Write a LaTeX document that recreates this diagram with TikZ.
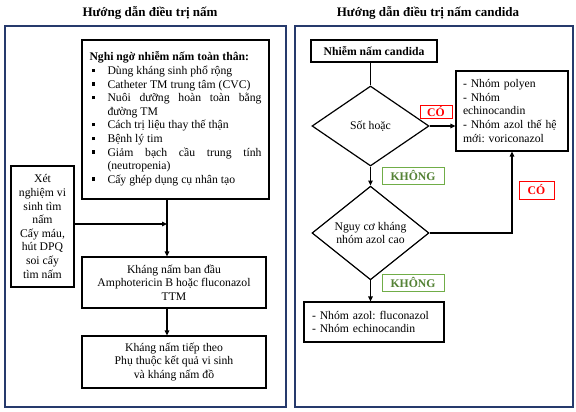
\documentclass[tikz,border=0pt]{standalone}
\usepackage{fontspec}
\setmainfont{Liberation Serif}
\usetikzlibrary{shapes.geometric,arrows.meta}
\definecolor{framenavy}{RGB}{38,58,108}
\definecolor{nogreen}{RGB}{84,130,53}
\definecolor{noborder}{RGB}{112,173,71}
\frenchspacing
\newcommand{\tightlines}{\lineskiplimit=-20pt\relax\lineskip=0pt\relax}
\newcommand{\riskitem}[1]{\par\hangindent=18pt\hangafter=1\noindent\makebox[18pt][l]{\hspace{2pt}\rule[2.5pt]{3.5pt}{3.5pt}}#1}
\begin{document}
    \begin{tikzpicture}[x=1pt,y=-1pt,
        font=\fontsize{11.7}{13.6}\selectfont\tightlines,
        panel/.style={draw=framenavy,line width=1.4pt},
        heading/.style={font=\fontsize{13}{15}\selectfont\bfseries},
        box/.style={draw,line width=1.2pt,inner sep=0pt,align=center},
        choice/.style={diamond,draw,line width=1.2pt,inner sep=0pt,
          minimum width=117pt,minimum height=80pt,align=center},
        yeslabel/.style={draw=red,text=red,line width=0.8pt,inner sep=0pt,
          font=\fontsize{11.7}{13.6}\selectfont\bfseries},
        nolabel/.style={draw=noborder,text=nogreen,line width=0.8pt,inner sep=0pt,
          minimum width=62pt,minimum height=17pt,font=\fontsize{11.7}{13.6}\selectfont\bfseries},
        flow/.style={line width=1.2pt,-{Triangle[length=5pt,width=4.5pt]}}]
        \useasboundingbox (0,0) rectangle (576,412);
        \fill[white] (0,0) rectangle (576,412);

        % left panel
        \draw[panel] (5,26) rectangle (286,407);
        \node[heading] (lefttitle) at (150,13) {Hướng dẫn điều trị nấm};
        \node[draw,line width=1.6pt,inner sep=0pt,minimum width=187pt,minimum height=159pt]
          (risk) at (175.5,119.5) {\parbox{172pt}{%
          \fontsize{11.7}{13.6}\selectfont\tightlines\parskip=0pt
          \hyphenpenalty=10000\exhyphenpenalty=10000
          \noindent\textbf{Nghi ngờ nhiễm nấm toàn thân:}
          \riskitem{Dùng kháng sinh phổ rộng}
          \riskitem{Catheter TM trung tâm (CVC)}
          \riskitem{Nuôi dưỡng hoàn toàn bằng đường TM}
          \riskitem{Cách trị liệu thay thế thận}
          \riskitem{Bệnh lý tim}
          \riskitem{Giảm bạch cầu trung tính (neutropenia)}
          \riskitem{Cấy ghép dụng cụ nhân tạo}\par\kern 1pt}};
        \node[box,minimum width=63pt,minimum height=121pt] (xet) at (42.5,226.5)
          {Xét\\nghiệm vi\\sinh tìm\\nấm\\Cấy máu,\\hút DPQ\\soi cấy\\tìm nấm};
        \node[box,minimum width=184pt,minimum height=51pt] (init) at (174,282.5)
          {Kháng nấm ban đầu\\Amphotericin B hoặc fluconazol\\TTM};
        \node[box,minimum width=184pt,minimum height=52pt] (next) at (174,362)
          {Kháng nấm tiếp theo\\Phụ thuộc kết quả vi sinh\\và kháng nấm đồ};
        \coordinate (joint) at (167,224);
        \draw[line width=1.2pt] (risk.south -| joint) -- (joint);
        \draw[flow] (xet.east |- joint) -- (joint);
        \draw[flow] (joint) -- (init.north -| joint);
        \draw[flow] (init.south -| joint) -- (next.north -| joint);

        % right panel
        \draw[panel] (295,26) rectangle (573,407);
        \node[heading] (righttitle) at (428,13) {Hướng dẫn điều trị nấm candida};
        \node[box,line width=1.6pt,minimum width=126pt,minimum height=22pt,
          font=\fontsize{11.7}{13.6}\selectfont\bfseries] (candida) at (374,51) {Nhiễm nấm candida};
        \node[choice] (fever) at (370.5,126) {Sốt hoặc};
        \node[choice] (azolrisk) at (370.5,233) {Nguy cơ kháng\\nhóm azol cao};
        \node[box,minimum width=112pt,minimum height=80pt,text width=98pt,align=left]
          (broad) at (512,111) {- Nhóm polyen\\- Nhóm\\echinocandin\\- Nhóm azol thế hệ\\mới: voriconazol};
        \node[box,minimum width=140pt,minimum height=40pt,text width=124pt,align=left]
          (narrow) at (374,322) {- Nhóm azol: fluconazol\\- Nhóm echinocandin};
        \node[yeslabel,minimum width=32pt,minimum height=12.5pt] (yes1) at (436,112) {CÓ};
        \node[yeslabel,minimum width=35pt,minimum height=18pt] (yes2) at (536.5,190) {CÓ};
        \node[nolabel] (no1) at (413,175.5) {KHÔNG};
        \node[nolabel] (no2) at (413,282.5) {KHÔNG};
        \draw[line width=1.2pt] (candida.south -| fever.north) -- (fever.north);
        \draw[flow] (fever.east) -- (fever.east -| broad.west);
        \draw[flow] (fever.south) -- (azolrisk.north);
        \draw[flow] (azolrisk.east) -| (broad.south);
        \draw[flow] (azolrisk.south) -- (narrow.north -| azolrisk.south);
    \end{tikzpicture}
\end{document}
